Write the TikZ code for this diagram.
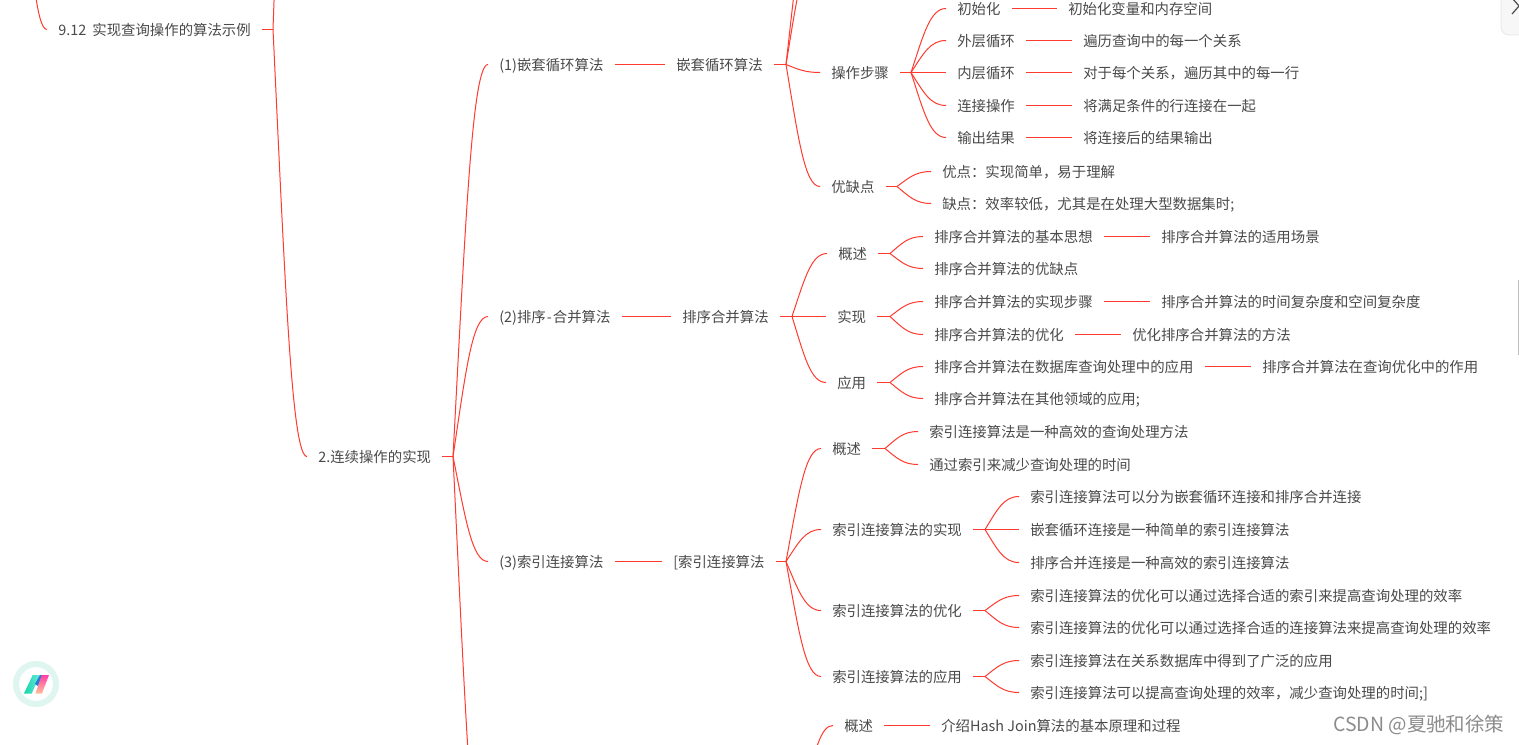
\documentclass[tikz,border=0pt]{standalone}
\usepackage{fontspec}
\setmainfont{Noto Sans CJK SC}
\usetikzlibrary{calc}
\definecolor{linered}{HTML}{FF3B30}
\definecolor{txtgray}{HTML}{4A4A4A}
\definecolor{ringc}{HTML}{DFF5EF}
\definecolor{logoa}{HTML}{12D8A8}
\definecolor{logob}{HTML}{6FE6E0}
\definecolor{logoc}{HTML}{1E7FD0}
\definecolor{logod}{HTML}{FF3FA8}
\definecolor{logoe}{HTML}{FFC09A}
\tikzset{
  txt/.style={anchor=west,inner xsep=8.25pt,inner ysep=0pt,text=txtgray,font=\fontsize{10.8pt}{13pt}\selectfont,text height=10.85pt,text depth=1.9pt},
  conn/.style={draw=linered,line width=0.75pt}
}
\newcommand\nd[4]{\node[txt] (#1) at ({#2-11},#3) {#4};}
\newcommand\fk[2]{\draw[conn] let \p1=(#1),\p2=(#2),\n1={\x2-\x1},\n2={\y2-\y1} in (\p1) .. controls ({\x1+0.36*\n1},{\y1+0.6*\n2}) and ({\x1+0.55*\n1},\y2) .. (\p2);}
\newcommand\stub[2]{\draw[conn] (#1) -- (#2);}
\begin{document}
\begin{tikzpicture}[x=0.75pt,y=-0.75pt]
\useasboundingbox (0,0) rectangle (1519,745);
\clip (0,0) rectangle (1519,745);
\fill[white] (0,0) rectangle (1519,745);

\begin{scope}[yshift=-0.375pt]
% forks
\coordinate (f0) at (22,-150);
\coordinate (f1) at (273,29);
\coordinate (f2) at (453,456);
\coordinate (fa) at (786,64);
\coordinate (fa1) at (911,72);
\coordinate (fa2) at (897,186);
\coordinate (fb) at (792,316);
\coordinate (fb1) at (890,253);
\coordinate (fb2) at (890,316);
\coordinate (fb3) at (890,382);
\coordinate (fc) at (786,561);
\coordinate (fc1) at (885,448);
\coordinate (fc2) at (985,529);
\coordinate (fc3) at (985,610);
\coordinate (fc4) at (985,676);
\coordinate (fd) at (805,790);
\coordinate (offup) at (307,-540);
\coordinate (off4) at (488,890);
\coordinate (offa1) at (815,-90);
\coordinate (offa2) at (816,-45);

% nodes
\nd{n912}{58}{29}{9.12\hspace{2.2pt} 实现查询操作的算法示例}
\nd{n2}{318}{456}{2.连续操作的实现}
\nd{a}{499}{64}{(1)嵌套循环算法}
\nd{aa}{676}{64}{嵌套循环算法}
\nd{a1}{831}{72}{操作步骤}
\nd{a11}{957}{8}{初始化}
\nd{a11x}{1068}{8}{初始化变量和内存空间}
\nd{a12}{957}{40}{外层循环}
\nd{a12x}{1083}{40}{遍历查询中的每一个关系}
\nd{a13}{957}{72}{内层循环}
\nd{a13x}{1083}{72}{对于每个关系，遍历其中的每一行}
\nd{a14}{957}{105}{连接操作}
\nd{a14x}{1083}{105}{将满足条件的行连接在一起}
\nd{a15}{957}{137}{输出结果}
\nd{a15x}{1083}{137}{将连接后的结果输出}
\nd{a2}{831}{186}{优缺点}
\nd{a21}{942}{171}{优点：实现简单，易于理解}
\nd{a22}{942}{203}{缺点：效率较低，尤其是在处理大型数据集时;}
\nd{b}{499}{316}{(2)排序\hspace{0.8pt}-\hspace{0.8pt}合并算法}
\nd{bb}{682}{316}{排序合并算法}
\nd{b1}{838}{253}{概述}
\nd{b11}{934}{236}{排序合并算法的基本思想}
\nd{b11x}{1161}{236}{排序合并算法的适用场景}
\nd{b12}{934}{268}{排序合并算法的优缺点}
\nd{b2}{837}{316}{实现}
\nd{b21}{934}{301}{排序合并算法的实现步骤}
\nd{b21x}{1161}{301}{排序合并算法的时间复杂度和空间复杂度}
\nd{b22}{934}{334}{排序合并算法的优化}
\nd{b22x}{1132}{334}{优化排序合并算法的方法}
\nd{b3}{837}{382}{应用}
\nd{b31}{934}{366}{排序合并算法在数据库查询处理中的应用}
\nd{b31x}{1262}{366}{排序合并算法在查询优化中的作用}
\nd{b32}{934}{398}{排序合并算法在其他领域的应用;}
\nd{c}{499}{561}{(3)索引连接算法}
\nd{cc}{673}{561}{[索引连接算法}
\nd{c1}{832}{448}{概述}
\nd{c11}{929}{431}{索引连接算法是一种高效的查询处理方法}
\nd{c12}{929}{464}{通过索引来减少查询处理的时间}
\nd{c2}{832}{529}{索引连接算法的实现}
\nd{c21}{1030}{496}{索引连接算法可以分为嵌套循环连接和排序合并连接}
\nd{c22}{1030}{529}{嵌套循环连接是一种简单的索引连接算法}
\nd{c23}{1030}{562}{排序合并连接是一种高效的索引连接算法}
\nd{c3}{832}{610}{索引连接算法的优化}
\nd{c31}{1030}{595}{索引连接算法的优化可以通过选择合适的索引来提高查询处理的效率}
\nd{c32}{1030}{627}{索引连接算法的优化可以通过选择合适的连接算法来提高查询处理的效率}
\nd{c4}{832}{676}{索引连接算法的应用}
\nd{c41}{1030}{660}{索引连接算法在关系数据库中得到了广泛的应用}
\nd{c42}{1030}{692}{索引连接算法可以提高查询处理的效率，减少查询处理的时间;]}
\nd{d1}{844}{725}{概述}
\nd{d1x}{941}{725}{介绍Hash Join算法的基本原理和过程}

% connectors
\fk{f0}{n912.west}
\stub{n912.east}{f1}
\fk{f1}{offup}
\fk{f1}{n2.west}
\stub{n2.east}{f2}
\fk{f2}{a.west}\fk{f2}{b.west}\fk{f2}{c.west}\fk{f2}{off4}
\stub{a.east}{aa.west}
\stub{aa.east}{fa}
\fk{fa}{offa1}\fk{fa}{offa2}
\fk{fa}{a1.west}\fk{fa}{a2.west}
\stub{a1.east}{fa1}
\fk{fa1}{a11.west}\fk{fa1}{a12.west}\fk{fa1}{a13.west}\fk{fa1}{a14.west}\fk{fa1}{a15.west}
\stub{a11.east}{a11x.west}\stub{a12.east}{a12x.west}\stub{a13.east}{a13x.west}\stub{a14.east}{a14x.west}\stub{a15.east}{a15x.west}
\stub{a2.east}{fa2}
\fk{fa2}{a21.west}\fk{fa2}{a22.west}
\stub{b.east}{bb.west}
\stub{bb.east}{fb}
\fk{fb}{b1.west}\fk{fb}{b2.west}\fk{fb}{b3.west}
\stub{b1.east}{fb1}\stub{b2.east}{fb2}\stub{b3.east}{fb3}
\fk{fb1}{b11.west}\fk{fb1}{b12.west}
\fk{fb2}{b21.west}\fk{fb2}{b22.west}
\fk{fb3}{b31.west}\fk{fb3}{b32.west}
\stub{b11.east}{b11x.west}\stub{b21.east}{b21x.west}\stub{b22.east}{b22x.west}\stub{b31.east}{b31x.west}
\stub{c.east}{cc.west}
\stub{cc.east}{fc}
\fk{fc}{c1.west}\fk{fc}{c2.west}\fk{fc}{c3.west}\fk{fc}{c4.west}
\stub{c1.east}{fc1}\stub{c2.east}{fc2}\stub{c3.east}{fc3}\stub{c4.east}{fc4}
\fk{fc1}{c11.west}\fk{fc1}{c12.west}
\fk{fc2}{c21.west}\fk{fc2}{c22.west}\fk{fc2}{c23.west}
\fk{fc3}{c31.west}\fk{fc3}{c32.west}
\fk{fc4}{c41.west}\fk{fc4}{c42.west}
\fk{fd}{d1.west}
\stub{d1.east}{d1x.west}
\end{scope}

% top-right panel and scrollbar
\draw[draw=black!8,fill=black!3,line width=0.75pt,rounded corners=6pt] (1501,-20) rectangle (1540,35);
\draw[draw=black!70,line width=0.9pt] (1512,-2) -- (1519,6) -- (1512,14);
\fill[black!25] (1517.5,280) rectangle (1519,355);

% logo
\draw[draw=ringc,line width=4.5pt] (36,684) circle (20);
\shade[left color=logoa,right color=logob] (24,693.5) -- (32.7,675) -- (40,675) -- (31.7,693.5) -- cycle;
\fill[logoc] (35,684) -- (40,675) -- (42.5,675) -- (38,686) -- cycle;
\shade[top color=logod,bottom color=logoe] (41.7,675) -- (49,675) -- (42,693.5) -- (35.5,693.5) -- cycle;

% watermark
\node[anchor=west,inner sep=0pt,text=black!45,font=\fontsize{14.6pt}{17pt}\selectfont] (wm) at (1333,725) {CSDN @夏驰和徐策};
\end{tikzpicture}
\end{document}
